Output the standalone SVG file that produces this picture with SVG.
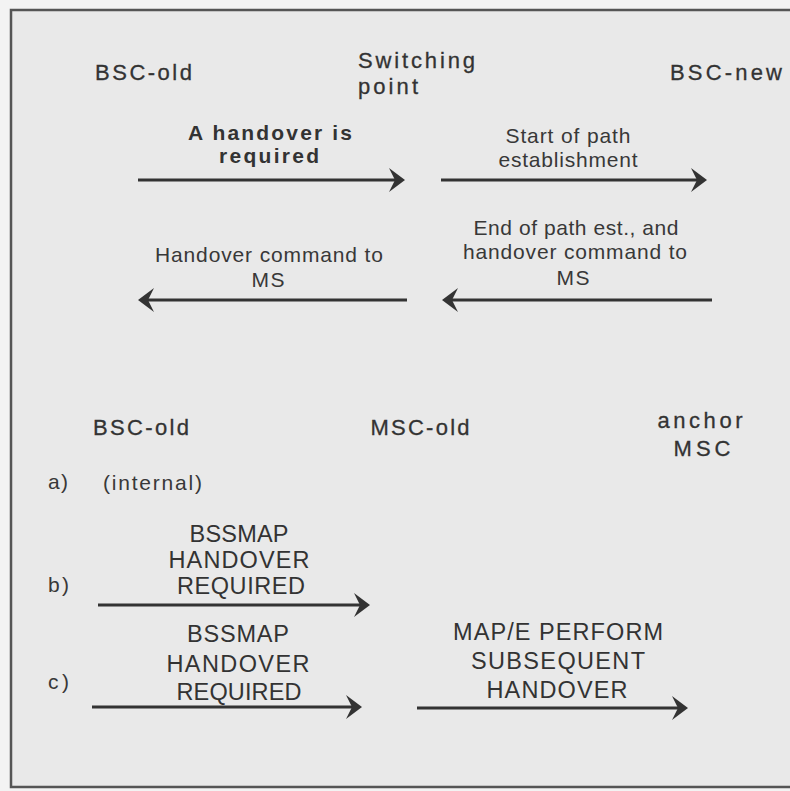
<svg xmlns="http://www.w3.org/2000/svg" width="790" height="791" viewBox="0 0 790 791">
  <defs>
    <style>
      text { font-family: "Liberation Sans", Arial, sans-serif; fill: #333; }
      .node { font-size: 22px; stroke: #333; stroke-width: 0.3; }
      .lbl { font-size: 21px; fill: #383838; }
      .bold { font-size: 21px; font-weight: bold; }
      .caps { font-size: 23.5px; }
      .mid { text-anchor: middle; }
      .conn { stroke: #333; stroke-width: 3; fill: none; marker-end: url(#arrow); }
      .frame { stroke: #555; stroke-width: 2.5; fill: none; }
    </style>
    <marker id="arrow" markerUnits="userSpaceOnUse" viewBox="-18 -14 20 28" markerWidth="20" markerHeight="28" refX="-7" refY="0" orient="auto">
      <path d="M0,0 L-16,-12 L-10,0 L-16,12 Z" fill="#333"/>
    </marker>
  </defs>

  <rect x="0" y="0" width="790" height="791" fill="#f3f3f3"/>
  <rect x="11" y="10" width="782" height="777" fill="#e9e9e9"/>
  <g id="frame">
    <path class="frame" d="M795,10 L11,10 L11,787 L795,787"/>
  </g>

  <!-- Upper part: nodes -->
  <g id="bsc-old-top"><text class="node mid" x="143.5" y="80" textLength="97" lengthAdjust="spacing">BSC-old</text></g>
  <g id="switching-point">
    <text class="node" x="358" y="68" textLength="117" lengthAdjust="spacing">Switching</text>
    <text class="node" x="358" y="94" textLength="60" lengthAdjust="spacing">point</text>
  </g>
  <g id="bsc-new"><text class="node mid" x="726" y="80" textLength="112" lengthAdjust="spacing">BSC-new</text></g>

  <!-- Lower part: nodes -->
  <g id="bsc-old-bottom"><text class="node mid" x="141" y="435" textLength="96" lengthAdjust="spacing">BSC-old</text></g>
  <g id="msc-old"><text class="node mid" x="420" y="435" textLength="99" lengthAdjust="spacing">MSC-old</text></g>
  <g id="anchor-msc">
    <text class="node mid" x="700" y="428" textLength="85" lengthAdjust="spacing">anchor</text>
    <text class="node mid" x="702" y="456" textLength="57" lengthAdjust="spacing">MSC</text>
  </g>

  <!-- Connectors -->
  <g id="connectors">
    <line class="conn" x1="138" y1="180" x2="398" y2="180"/>
    <line class="conn" x1="441" y1="180" x2="700" y2="180"/>
    <line class="conn" x1="407" y1="300" x2="145" y2="300"/>
    <line class="conn" x1="712" y1="300" x2="449" y2="300"/>
    <line class="conn" x1="98" y1="605" x2="363" y2="605"/>
    <line class="conn" x1="92" y1="707" x2="355" y2="707"/>
    <line class="conn" x1="417" y1="708" x2="681" y2="708"/>
  </g>

  <!-- Connector labels -->
  <g id="labels">
    <text class="bold mid" x="270" y="140" textLength="164" lengthAdjust="spacing">A handover is</text>
    <text class="bold mid" x="269" y="163" textLength="100" lengthAdjust="spacing">required</text>

    <text class="lbl mid" x="568" y="143" textLength="125" lengthAdjust="spacing">Start of path</text>
    <text class="lbl mid" x="568" y="167" textLength="139" lengthAdjust="spacing">establishment</text>

    <text class="lbl mid" x="269" y="262" textLength="228" lengthAdjust="spacing">Handover command to</text>
    <text class="lbl mid" x="268" y="287" textLength="33" lengthAdjust="spacing">MS</text>

    <text class="lbl mid" x="576" y="235" textLength="205" lengthAdjust="spacing">End of path est., and</text>
    <text class="lbl mid" x="575" y="259" textLength="224" lengthAdjust="spacing">handover command to</text>
    <text class="lbl mid" x="573" y="285" textLength="33" lengthAdjust="spacing">MS</text>

    <text class="lbl" x="48" y="489" textLength="20" lengthAdjust="spacing">a)</text>
    <text class="lbl" x="103" y="490" textLength="99" lengthAdjust="spacing">(internal)</text>

    <text class="lbl" x="48" y="592" textLength="21" lengthAdjust="spacing">b)</text>
    <text class="caps mid" x="239" y="542" textLength="99" lengthAdjust="spacing">BSSMAP</text>
    <text class="caps mid" x="239" y="568" textLength="141" lengthAdjust="spacing">HANDOVER</text>
    <text class="caps mid" x="241" y="594" textLength="128" lengthAdjust="spacing">REQUIRED</text>

    <text class="lbl" x="48" y="689" textLength="21" lengthAdjust="spacing">c)</text>
    <text class="caps mid" x="238" y="642" textLength="102" lengthAdjust="spacing">BSSMAP</text>
    <text class="caps mid" x="238" y="672" textLength="143" lengthAdjust="spacing">HANDOVER</text>
    <text class="caps mid" x="239" y="700" textLength="125" lengthAdjust="spacing">REQUIRED</text>

    <text class="caps mid" x="558" y="640" textLength="210" lengthAdjust="spacing">MAP/E PERFORM</text>
    <text class="caps mid" x="558" y="669" textLength="174" lengthAdjust="spacing">SUBSEQUENT</text>
    <text class="caps mid" x="557" y="698" textLength="141" lengthAdjust="spacing">HANDOVER</text>
  </g>
</svg>
